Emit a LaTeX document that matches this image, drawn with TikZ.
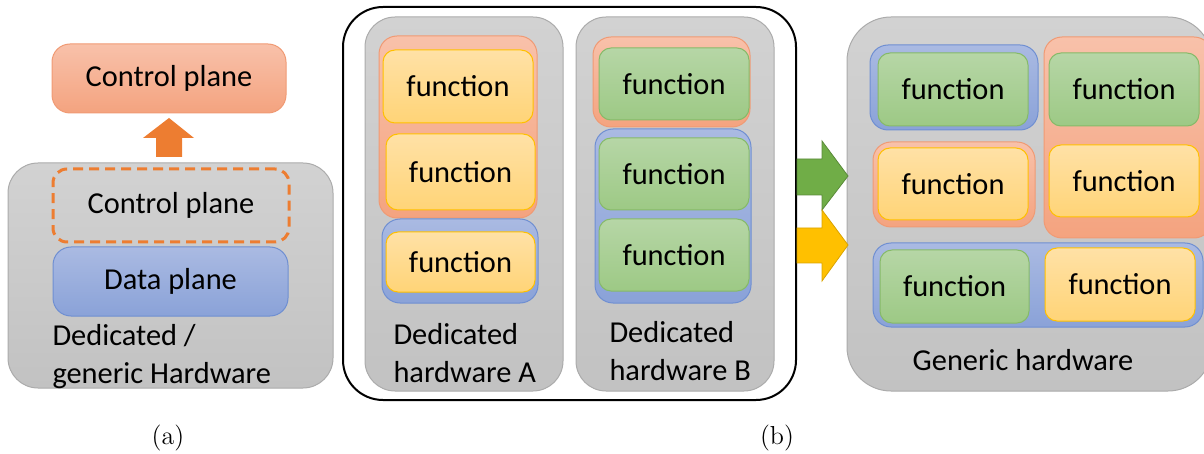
\documentclass[tikz,border=0pt]{standalone}
\usepackage{fontspec}
\setsansfont{Carlito}

\definecolor{hwtop}{HTML}{D2D2D2}
\definecolor{hwbot}{HTML}{C2C2C2}
\definecolor{hwline}{HTML}{ABABAB}
\definecolor{cttop}{HTML}{F8C1AA}
\definecolor{ctbot}{HTML}{F4A37F}
\definecolor{ctline}{HTML}{F09A74}
\definecolor{dttop}{HTML}{AABAE2}
\definecolor{dtbot}{HTML}{8AA2D8}
\definecolor{dtline}{HTML}{6F8FD2}
\definecolor{yetop}{HTML}{FFE1A6}
\definecolor{yebot}{HTML}{FFD477}
\definecolor{yeline}{HTML}{FFC000}
\definecolor{grtop}{HTML}{B6D6A6}
\definecolor{grbot}{HTML}{9DC985}
\definecolor{grline}{HTML}{86BA68}
\definecolor{orarrow}{HTML}{ED7D31}
\definecolor{grarrow}{HTML}{70AD47}
\definecolor{yearrow}{HTML}{FFC000}

\begin{document}
\begin{tikzpicture}[x=0.5pt, y=-0.5pt,
    box/.style={inner sep=0pt, line width=0.5pt, font=\sffamily\fontsize{15.2}{19}\selectfont},
    hw/.style={box, rounded corners=15pt, draw=hwline, top color=hwtop, bottom color=hwbot},
    ctrl/.style={box, rounded corners=9pt, draw=ctline, top color=cttop, bottom color=ctbot},
    dplane/.style={box, rounded corners=9pt, draw=dtline, top color=dttop, bottom color=dtbot},
    fyel/.style={box, rounded corners=6pt, draw=yeline, top color=yetop, bottom color=yebot},
    fgrn/.style={box, rounded corners=6pt, draw=grline, top color=grtop, bottom color=grbot},
    fsize/.style={minimum width=75pt, minimum height=36.5pt},
    lbl/.style={box, anchor=west, align=left},
    caption/.style={inner sep=0pt, font=\fontsize{13}{15}\selectfont}
  ]
  \useasboundingbox (0,0) rectangle (1204,454);
  \clip (0,0) rectangle (1204,454);

  % (a) control plane taken out of the hardware
  \node[ctrl, minimum width=117pt, minimum height=34.5pt] (cpup) at (169,78.5) {Control plane};
  \node[hw, minimum width=162.5pt, minimum height=112.5pt] (hwa) at (170.5,275.5) {};
  \node[box, minimum width=118pt, minimum height=36.5pt, draw=orarrow, line width=1.5pt,
        dash pattern=on 5pt off 3pt, rounded corners=7pt] (cpdown) at (171,205.5) {Control plane};
  \node[dplane, minimum width=117.5pt, minimum height=34.5pt] (dp) at (170.5,281.5) {Data plane};
  \node[lbl] (hwatext) at (52,357) {Dedicated /\\generic Hardware};
  \fill[orarrow] (156,157) -- (182,157) -- (182,138) -- (194,138) -- (169,118)
    -- (143,138) -- (156,138) -- cycle;

  % (b) dedicated boxes
  \draw[line width=1pt, rounded corners=20pt] (343,7) rectangle (796,400);
  \node[hw, minimum width=99pt, minimum height=187pt] (hwA) at (464,204) {};
  \node[hw, minimum width=99pt, minimum height=187pt] (hwB) at (675,204) {};

  \node[ctrl, minimum width=79pt, minimum height=91pt] (grpA1) at (458,127) {};
  \node[dplane, minimum width=78pt, minimum height=42pt] (grpA2) at (460,261) {};
  \node[fyel, fsize] (fA1) at (458,86.5) {function};
  \node[fyel, fsize, minimum width=74.5pt, minimum height=38pt] (fA2) at (460.5,172) {function};
  \node[fyel, fsize, minimum width=74.5pt, minimum height=30pt] (fA3) at (460.5,262) {function};
  \node[lbl] (hwAtext) at (393,353) {Dedicated\\hardware A};

  \node[ctrl, minimum width=78.5pt, minimum height=45pt] (grpB1) at (671.5,82) {};
  \node[dplane, minimum width=78pt, minimum height=87pt] (grpB2) at (673,216) {};
  \node[fgrn, fsize, minimum height=36pt] (fB1) at (674,84) {function};
  \node[fgrn, fsize, minimum height=36pt] (fB2) at (674,174) {function};
  \node[fgrn, fsize, minimum height=36pt] (fB3) at (674,255) {function};
  \node[lbl] (hwBtext) at (609,351) {Dedicated\\hardware B};

  % generic hardware
  \node[hw, rounded corners=22pt, minimum width=182.5pt, minimum height=187pt] (hwG) at (1029.5,204) {};
  \node[dplane, minimum width=84pt, minimum height=42.5pt] (grpG1) at (954,87.5) {};
  \node[ctrl, minimum width=84pt, minimum height=100.5pt] (grpG2) at (1128,137.5) {};
  \node[ctrl, minimum width=81pt, minimum height=42.5pt] (grpG3) at (954,184.5) {};
  \node[dplane, minimum width=165pt, minimum height=42pt] (grpG4) at (1038,285) {};
  \node[fgrn, fsize] (fG1) at (953,89.5) {function};
  \node[fgrn, fsize] (fG2) at (1124,89.5) {function};
  \node[fyel, fsize, minimum height=36pt] (fG3) at (953,184) {function};
  \node[fyel, fsize, minimum height=36pt] (fG4) at (1124,181) {function};
  \node[fgrn, fsize, minimum width=74.5pt] (fG5) at (954.5,286.5) {function};
  \node[fyel, fsize] (fG6) at (1120,284.5) {function};
  \node[box] (hwGtext) at (1023,360) {Generic hardware};

  % block arrows
  \filldraw[fill=grarrow, draw=grarrow!80!black, line width=0.4pt]
    (797,159) -- (822,159) -- (822,141) -- (848,176) -- (822,210) -- (822,195)
    -- (797,195) -- cycle;
  \filldraw[fill=yearrow, draw=yearrow!85!black, line width=0.4pt]
    (797,228) -- (822,228) -- (822,210) -- (848,245) -- (822,281) -- (822,263)
    -- (797,263) -- cycle;

  \node[caption] (capa) at (168,438) {(a)};
  \node[caption] (capb) at (777,438) {(b)};
\end{tikzpicture}
\end{document}
